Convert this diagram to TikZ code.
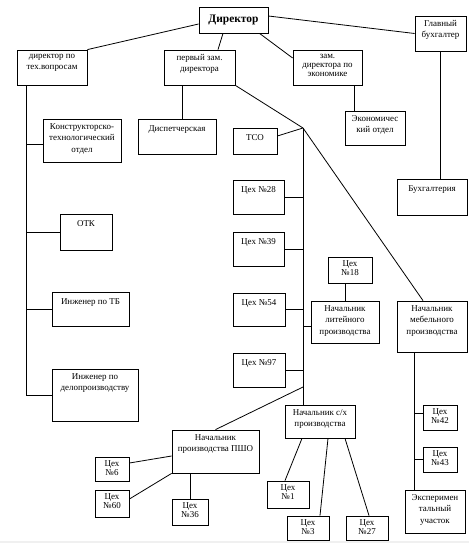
\documentclass[tikz,border=0pt]{standalone}
\usepackage{fontspec}
\setmainfont{Liberation Serif}
\usetikzlibrary{fit,calc}
\newcommand\mybox[5][lbl]{%
  \node[box={#3#4}] (#2) {};
  \node[#1] (#2-t) at (#2.north) {#5};}
\begin{document}
\begin{tikzpicture}[x=1bp,y=-1bp,
  box/.style={draw, line width=0.8bp, inner sep=0pt, fit={#1}},
  lbl/.style={anchor=north, align=center, inner sep=0pt, yshift=-4.5bp,
    font=\fontsize{9}{11.5}\selectfont, execute at begin node=\strut},
  lbl2/.style={anchor=north, align=center, inner sep=0pt, yshift=-4.2bp,
    font=\fontsize{9}{9}\selectfont, execute at begin node=\strut},
  ln/.style={line width=0.8bp}]
\useasboundingbox (0,0) rectangle (469,543);
\fill[black!6] (0,540.5) rectangle (469,543);
% boxes
\node[box={(199,7)(268,33)}] (dir) {};
\node[inner sep=0pt, font=\bfseries\fontsize{11.5}{13}\selectfont] (dir-t) at (dir.center) {Директор};
\mybox{gb}{(415,16)}{(466,51)}{Главный\\бухгалтер}
\mybox{tech}{(17,50)}{(87,85)}{директор по\\тех.вопросам}
\mybox{pz}{(164,50)}{(235,85)}{первый зам.\\директора}
\mybox[lbl2]{ze}{(293,50)}{(362,85)}{зам.\\директора по\\экономике}
\mybox{eo}{(345,111)}{(405,145)}{Экономичес\\кий отдел}
\mybox{buh}{(397,179)}{(467,215)}{Бухгалтерия}
\mybox{kto}{(43,119)}{(121,162)}{Конструкторско-\\технологический\\отдел}
\mybox{otk}{(60,214)}{(112,250)}{ОТК}
\mybox{itb}{(52,292)}{(129,326)}{Инженер по ТБ}
\mybox{idp}{(52,369)}{(138,421)}{Инженер по\\делопроизводству}
\mybox{disp}{(138,119)}{(216,154)}{Диспетчерская}
\mybox{tco}{(233,128)}{(277,154)}{ТСО}
\mybox{c28}{(233,180)}{(284,214)}{Цех №28}
\mybox{c39}{(233,232)}{(284,266)}{Цех №39}
\mybox{c54}{(233,293)}{(285,326)}{Цех №54}
\mybox{c97}{(233,353)}{(285,387)}{Цех №97}
\mybox[lbl2]{c18}{(328,257)}{(372,283)}{Цех\\№18}
\mybox{lit}{(311,301)}{(379,343)}{Начальник\\литейного\\производства}
\mybox{meb}{(397,301)}{(467,352)}{Начальник\\мебельного\\производства}
\mybox[lbl2]{c42}{(423,405)}{(457,430)}{Цех\\№42}
\mybox[lbl2]{c43}{(423,447)}{(457,472)}{Цех\\№43}
\mybox{exp}{(405,490)}{(465,533)}{Эксперимен\\тальный\\участок}
\mybox{sh}{(285,405)}{(355,438)}{Начальник с/х\\производства}
\mybox[lbl2]{c1}{(267,481)}{(309,508)}{Цех\\№1}
\mybox[lbl2]{c3}{(287,516)}{(329,540)}{Цех\\№3}
\mybox[lbl2]{c27}{(346,516)}{(388,540)}{Цех\\№27}
\mybox{pso}{(172,430)}{(259,473)}{Начальник\\производства ПШО}
\mybox[lbl2]{c6}{(95,457)}{(129,481)}{Цех\\№6}
\mybox[lbl2]{c60}{(95,490)}{(129,517)}{Цех\\№60}
\mybox[lbl2]{c36}{(172,499)}{(208,525)}{Цех\\№36}
% connectors from director
\draw[ln] ([yshift=-4bp]dir.west) -- (tech.north east);
\draw[ln] ([xshift=-10.5bp]dir.south) -- ([xshift=18.5bp]pz.north);
\draw[ln] ([xshift=26bp]dir.south) -- ([yshift=9.5bp]ze.west);
\draw[ln] ([yshift=4bp]dir.east) -- (gb.west);
\draw[ln] ([xshift=26.5bp]ze.south) coordinate (e0) -- (e0 |- eo.north);
\draw[ln] (gb.south) -- (gb.south |- buh.north);
% technical director bus
\draw[ln] ([xshift=-26bp]tech.south) coordinate (t0) -- (t0 |- idp.west) -- (idp.west);
\coordinate (k0) at ([yshift=-4bp]kto.west);
\draw[ln] (k0) -- (k0 -| t0);
\draw[ln] (otk.west) -- (otk.west -| t0);
\draw[ln] (itb.west) -- (itb.west -| t0);
% first deputy
\draw[ln] ([xshift=-17.5bp]pz.south) coordinate (p0) -- (p0 |- disp.north);
\coordinate (J) at (303,128);
\draw[ln] (pz.south east) -- (J) -- ([xshift=-9bp]meb.north);
\draw[ln] ([yshift=5bp]tco.east) -- (J);
\draw[ln] (J) -- (J |- sh.north);
\foreach \n in {c28,c39,c54,c97} \draw[ln] (\n.east) -- (\n.east -| J);
\coordinate (l0) at ([yshift=-4bp]lit.west);
\draw[ln] (l0) -- (l0 -| J);
\draw[ln] (lit.north) -- (lit.north |- c18.south);
\coordinate (B1) at (303,387);
\draw[ln] (B1) -- (pso.north);
% agricultural production
\draw[ln] ([xshift=-18bp]sh.south) -- ([xshift=-3bp]c1.north);
\draw[ln] ([xshift=8bp]sh.south) -- ([xshift=12bp]c3.north);
\draw[ln] ([xshift=25bp]sh.south) -- ([xshift=2bp]c27.north);
% PSHO
\draw[ln] ([yshift=-4.5bp]pso.west) -- ([yshift=6bp]c6.east);
\draw[ln] (pso.south west) -- ([yshift=4.5bp]c60.east);
\draw[ln] (c36.north |- pso.south) -- (c36.north);
% furniture production
\draw[ln] ([xshift=-18bp]meb.south) coordinate (m0) -- (m0 |- exp.north);
\coordinate (q0) at ([yshift=4bp]c42.west);
\draw[ln] (q0) -- (q0 -| m0);
\draw[ln] (c43.west) -- (c43.west -| m0);
\end{tikzpicture}
\end{document}
